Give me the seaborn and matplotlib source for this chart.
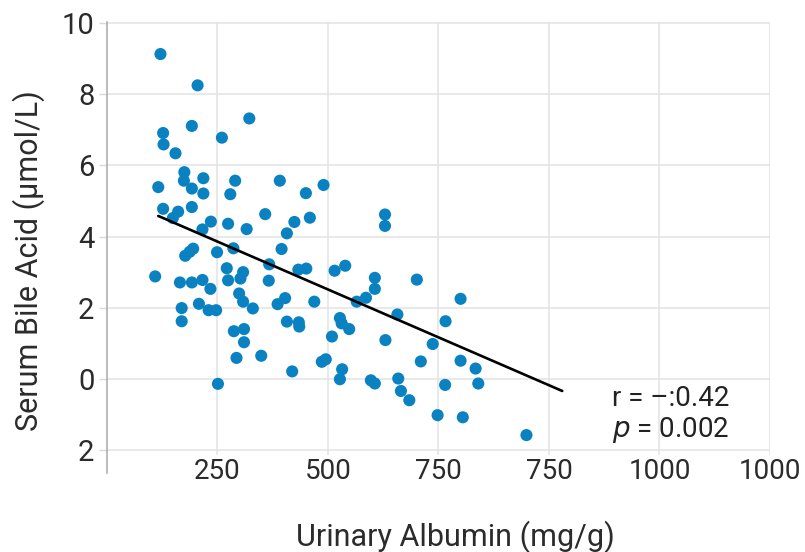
import pandas as pd
import matplotlib.pyplot as plt
import seaborn as sns

# values
albumin = [121, 205, 322, 192, 127, 260, 128, 155, 175, 174, 192, 218, 218, 290, 279,
           391, 450, 490, 116, 127, 161, 149, 192, 235, 216, 274, 316, 358, 424, 407,
           459, 629, 629, 195, 187, 177, 249, 286, 395, 109, 165, 192, 216, 234, 271,
           274, 308, 302, 367, 366, 299, 308, 330, 433, 451, 515, 539, 606, 606, 586,
           565, 701, 800, 657, 766, 169, 169, 208, 230, 247, 386, 403, 469, 407, 435,
           434, 527, 531, 548, 509, 630, 737, 287, 310, 310, 293, 349, 486, 495, 532,
           527, 419, 251, 597, 606, 659, 665, 684, 710, 765, 748, 800, 834, 840, 805,
           949]
bile_acid = [9.13, 8.25, 7.32, 7.11, 6.91, 6.78, 6.59, 6.34, 5.81, 5.57, 5.35, 5.64, 5.21,
             5.57, 5.19, 5.57, 5.22, 5.45, 5.39, 4.78, 4.70, 4.52, 4.83, 4.42, 4.20, 4.36,
             4.21, 4.63, 4.41, 4.09, 4.53, 4.62, 4.30, 3.66, 3.57, 3.46, 3.56, 3.67, 3.65,
             2.88, 2.71, 2.71, 2.78, 2.53, 3.11, 2.77, 3.00, 2.82, 3.22, 2.76, 2.40, 2.17,
             1.98, 3.07, 3.10, 3.04, 3.18, 2.84, 2.53, 2.28, 2.17, 2.79, 2.25, 1.81, 1.62,
             1.99, 1.62, 2.11, 1.93, 1.93, 2.10, 2.27, 2.17, 1.61, 1.47, 1.59, 1.71, 1.56,
             1.40, 1.19, 1.09, 0.98, 1.34, 1.40, 1.03, 0.59, 0.65, 0.48, 0.55, 0.27, -0.01,
             0.21, -0.14, -0.04, -0.13, 0.01, -0.34, -0.60, 0.49, -0.17, -1.02, 0.51, 0.29,
             -0.13, -1.08, -1.58]

fit_x = [116, 1030]
fit_y = [4.58, -0.34]

x_ticks = [250, 500, 750, 1000, 1250, 1500]
x_tick_labels = ['250', '500', '750', '750', '1000', '1000']
y_ticks = [10, 8, 6, 4, 2, 0, -2]
y_tick_labels = ['10', '8', '6', '4', '2', '0', '2']

df = pd.DataFrame({'albumin': albumin, 'bile': bile_acid})
fit = pd.DataFrame({'x': fit_x, 'y': fit_y})

sns.set_theme(style='whitegrid')
plt.rcParams['font.family'] = ['Roboto', 'DejaVu Sans']

fig = plt.figure(figsize=(8.05, 5.52), dpi=100)
ax = fig.add_axes([0.1329, 0.1757, 0.8236, 0.7844])

sns.scatterplot(data=df, x='albumin', y='bile', color='#0a82c1', s=76,
                edgecolor='none', ax=ax, zorder=3)
sns.lineplot(data=fit, x='x', y='y', color='black', linewidth=1.9, ax=ax, zorder=4)

ax.set_xlim(0, 1500)
ax.set_ylim(-2.14, 10.03)
ax.set_xticks(x_ticks)
ax.set_xticklabels(x_tick_labels)
ax.set_yticks(y_ticks)
ax.set_yticklabels(y_tick_labels)

ax.grid(True, color='#e3e3e3', linewidth=1.1)
for side in ['top', 'right', 'bottom']:
    ax.spines[side].set_visible(False)
ax.spines['left'].set_color('#a8a8a8')
ax.spines['left'].set_linewidth(1.1)
ax.spines['left'].set_bounds(-2.65, 10.03)

ax.tick_params(axis='y', left=True, length=6, width=1, color='#d9d9d9',
               pad=3, labelsize=21, labelcolor='#2b2b2b')
ax.tick_params(axis='x', bottom=False, length=0, pad=2, labelsize=20, labelcolor='#2b2b2b')

ax.set_xlabel('Urinary Albumin (mg/g)', fontsize=22, color='#2b2b2b')
ax.xaxis.set_label_coords(0.526, -0.15)
ax.set_ylabel('Serum Bile Acid (µmol/L)', fontsize=22, color='#2b2b2b')
ax.yaxis.set_label_coords(-0.094, 0.45)

ax.text(1142, -0.56, 'r = –:0.42', fontsize=20, color='#222222', va='center')
ax.text(1142, -1.45, r'$p$ = 0.002', fontsize=20, color='#222222', va='center')

fig.savefig('out.png', dpi=100)
